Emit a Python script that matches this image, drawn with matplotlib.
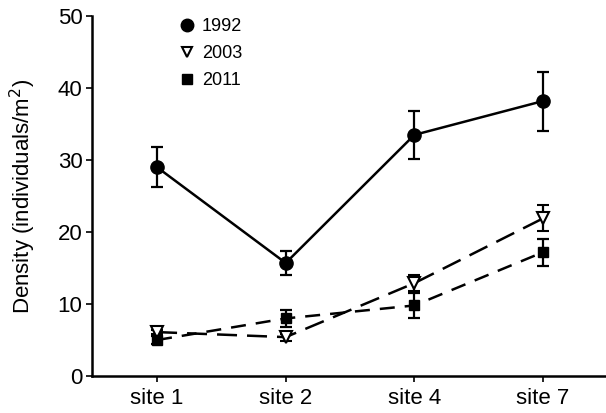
import matplotlib
matplotlib.use("Agg")
import matplotlib.pyplot as plt
from matplotlib.lines import Line2D
import numpy as np

sites = ["site 1", "site 2", "site 4", "site 7"]
y1992 = [29.0, 15.7, 33.5, 38.2]
e1992 = [2.8, 1.6, 3.3, 4.1]
y2003 = [6.1, 5.4, 12.9, 21.9]
e2003 = [0.3, 0.5, 1.1, 1.8]
y2011 = [5.0, 8.0, 9.8, 17.2]
e2011 = [0.5, 1.2, 1.7, 1.85]
yticks = [0, 10, 20, 30, 40, 50]

plt.rcParams['font.family'] = ['Liberation Sans', 'DejaVu Sans']

fig = plt.figure(figsize=(6.06, 4.13), dpi=100)
ax = fig.add_axes([0.152, 0.0896, 0.846, 0.8714])

x = np.arange(len(sites))
common = dict(color='black', ecolor='black', elinewidth=1.6, capsize=4.2, capthick=1.6, lw=1.8)
ax.errorbar(x, y1992, yerr=e1992, fmt='-o', ms=9.5, mfc='black', mec='black', label='1992', **common)
ax.errorbar(x, y2003, yerr=e2003, fmt='v', ms=8, mfc='white', mec='black', mew=1.5,
            linestyle=(0, (8, 4)), label='2003', **common)
ax.errorbar(x, y2011, yerr=e2011, fmt='s', ms=7.5, mfc='black', mec='black',
            linestyle=(0, (6, 4)), label='2011', **common)

ax.set_xlim(-0.505, 3.48)
ax.set_ylim(0, 50)
ax.set_xticks(x)
ax.set_xticklabels(sites)
ax.set_yticks(yticks)
ax.tick_params(axis='y', labelsize=16, width=1.2, length=4, direction='out', pad=3)
ax.tick_params(axis='x', labelsize=16, width=1.2, length=4, direction='out', pad=5)
ax.set_ylabel('Density (individuals/m$^2$)', fontsize=16)
ax.yaxis.set_label_coords(-0.105, 0.5)
for s in ['top', 'right']:
    ax.spines[s].set_visible(False)
for s in ['left', 'bottom']:
    ax.spines[s].set_linewidth(1.8)

hs = [Line2D([], [], marker='o', ms=9, color='black', ls='none'),
      Line2D([], [], marker='v', ms=7.5, mfc='white', mec='black', mew=1.5, ls='none'),
      Line2D([], [], marker='s', ms=7, color='black', ls='none')]
ax.legend(hs, ['1992', '2003', '2011'], loc='upper left', bbox_to_anchor=(0.14, 1.04),
          frameon=False, fontsize=13, handlelength=0.8, handletextpad=0.4, labelspacing=0.55)

fig.savefig('out.png', dpi=100)
